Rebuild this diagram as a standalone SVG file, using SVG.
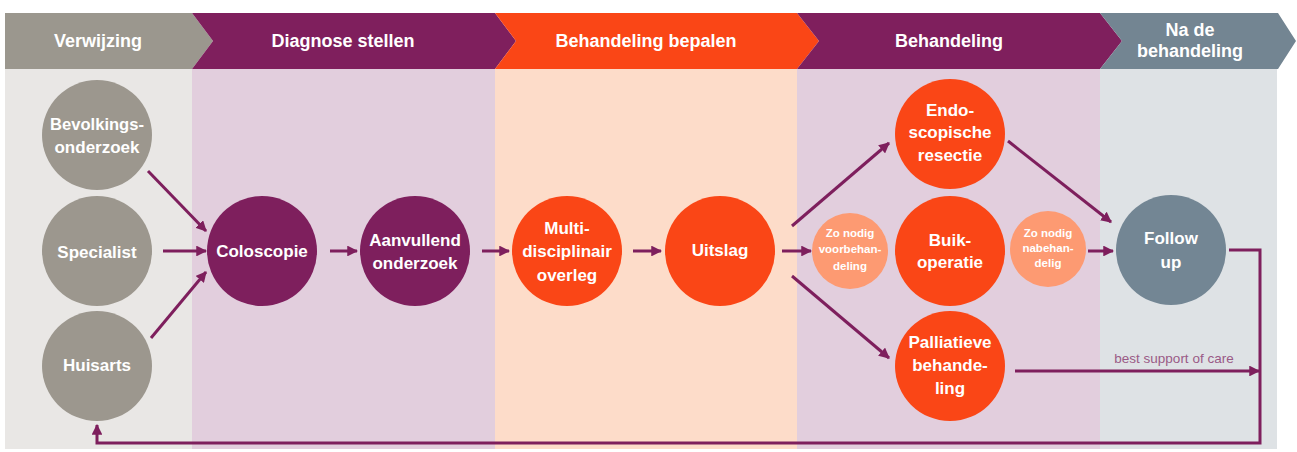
<svg xmlns="http://www.w3.org/2000/svg" width="1297" height="452" viewBox="0 0 1297 452">
<style>
.t{font-family:"Liberation Sans",Arial,sans-serif;font-weight:bold;fill:#fff;text-anchor:middle}
.h{font-size:18px}
.n{font-size:17px}
.s{font-size:11.5px}
.grey{fill:#9c978e}
.purple{fill:#7e1f5d}
.orange{fill:#fa4616}
.light{fill:#fd9a72}
.blue{fill:#738694}
.c{fill:none;stroke:#7e1f5d;stroke-width:3}
.lbl{font-family:"Liberation Sans",Arial,sans-serif;font-size:13.5px;fill:#9a5a86;text-anchor:middle}
</style>
<defs>
<marker id="ah" viewBox="0 0 10 10" refX="9" refY="5" markerWidth="3.6" markerHeight="3.6" orient="auto" markerUnits="strokeWidth">
<path d="M0,0 L10,5 L0,10 z" fill="#7e1f5d"/>
</marker>
</defs>
<rect width="1297" height="452" fill="#fff"/>
<g id="panels">
<rect x="5" y="69" width="187" height="380" fill="#e9e7e5"/>
<rect x="192" y="69" width="303" height="380" fill="#e2cedd"/>
<rect x="495" y="69" width="302" height="380" fill="#fddcc9"/>
<rect x="797" y="69" width="303" height="380" fill="#e2cedd"/>
<rect x="1100" y="69" width="177" height="380" fill="#dee2e5"/>
</g>
<g id="header">
<polygon points="5,13 192,13 213,41 192,69 5,69" fill="#9b978e"/>
<polygon points="192,13 495,13 516,41 495,69 192,69 213,41" fill="#7f1f5d"/>
<polygon points="495,13 797,13 819,41 797,69 495,69 516,41" fill="#fa4616"/>
<polygon points="797,13 1100,13 1122,41 1100,69 797,69 819,41" fill="#7f1f5d"/>
<polygon points="1100,13 1278,13 1296,41 1278,69 1100,69 1122,41" fill="#738592"/>
<text class="t h" x="98" y="47">Verwijzing</text>
<text class="t h" x="343" y="47">Diagnose stellen</text>
<text class="t h" x="646" y="47">Behandeling bepalen</text>
<text class="t h" x="949" y="47">Behandeling</text>
<text class="t h" x="1190" y="36">Na de</text>
<text class="t h" x="1190" y="57">behandeling</text>
</g>
<g id="connectors">
<line class="c" x1="148" y1="171" x2="206" y2="231" marker-end="url(#ah)"/>
<line class="c" x1="163" y1="251" x2="206" y2="251" marker-end="url(#ah)"/>
<line class="c" x1="151" y1="338" x2="206" y2="272" marker-end="url(#ah)"/>
<line class="c" x1="330" y1="251" x2="357" y2="251" marker-end="url(#ah)"/>
<line class="c" x1="482" y1="251" x2="509" y2="251" marker-end="url(#ah)"/>
<line class="c" x1="633" y1="251" x2="661" y2="251" marker-end="url(#ah)"/>
<line class="c" x1="782" y1="251" x2="811" y2="251" marker-end="url(#ah)"/>
<line class="c" x1="792" y1="226" x2="889" y2="143" marker-end="url(#ah)"/>
<line class="c" x1="792" y1="276" x2="889" y2="358" marker-end="url(#ah)"/>
<line class="c" x1="1008" y1="141" x2="1111" y2="222" marker-end="url(#ah)"/>
<line class="c" x1="1088" y1="251" x2="1113" y2="251" marker-end="url(#ah)"/>
<line class="c" x1="1015" y1="371" x2="1259" y2="371" marker-end="url(#ah)"/>
<polyline class="c" points="1229,250 1260,250 1260,443 97,443 97,425" marker-end="url(#ah)"/>
<text class="lbl" x="1174" y="363">best support of care</text>
</g>
<g id="bevolkingsonderzoek"><circle class="grey" cx="97" cy="135" r="55"/><text class="t n" x="97" y="130" textLength="94" lengthAdjust="spacingAndGlyphs">Bevolkings-</text><text class="t n" x="97" y="153">onderzoek</text></g>
<g id="specialist"><circle class="grey" cx="97" cy="251" r="55"/><text class="t n" x="97" y="258">Specialist</text></g>
<g id="huisarts"><circle class="grey" cx="97" cy="366" r="55"/><text class="t n" x="97" y="371">Huisarts</text></g>
<g id="coloscopie"><circle class="purple" cx="262" cy="251" r="55"/><text class="t n" x="262" y="257">Coloscopie</text></g>
<g id="aanvullend"><circle class="purple" cx="415" cy="251" r="55"/><text class="t n" x="415" y="246">Aanvullend</text><text class="t n" x="415" y="269">onderzoek</text></g>
<g id="mdo"><circle class="orange" cx="567" cy="251" r="55"/><text class="t n" x="567" y="234">Multi-</text><text class="t n" x="567" y="257">disciplinair</text><text class="t n" x="567" y="281">overleg</text></g>
<g id="uitslag"><circle class="orange" cx="720" cy="251" r="55"/><text class="t n" x="720" y="256">Uitslag</text></g>
<g id="voorbehandeling"><circle class="light" cx="850" cy="251" r="38"/><text class="t s" x="850" y="237">Zo nodig</text><text class="t s" x="850" y="253">voorbehan-</text><text class="t s" x="850" y="270">deling</text></g>
<g id="endoscopische"><circle class="orange" cx="950" cy="134" r="55"/><text class="t n" x="950" y="116">Endo-</text><text class="t n" x="950" y="138">scopische</text><text class="t n" x="950" y="161">resectie</text></g>
<g id="buikoperatie"><circle class="orange" cx="950" cy="251" r="55"/><text class="t n" x="950" y="246">Buik-</text><text class="t n" x="950" y="268">operatie</text></g>
<g id="palliatieve"><circle class="orange" cx="950" cy="366" r="55"/><text class="t n" x="950" y="348">Palliatieve</text><text class="t n" x="950" y="371">behande-</text><text class="t n" x="950" y="394">ling</text></g>
<g id="nabehandeling"><circle class="light" cx="1048" cy="249" r="38"/><text class="t s" x="1048" y="237">Zo nodig</text><text class="t s" x="1048" y="252">nabehan-</text><text class="t s" x="1048" y="267">delig</text></g>
<g id="followup"><circle class="blue" cx="1171" cy="250" r="55"/><text class="t n" x="1171" y="244">Follow</text><text class="t n" x="1171" y="268">up</text></g>
</svg>
